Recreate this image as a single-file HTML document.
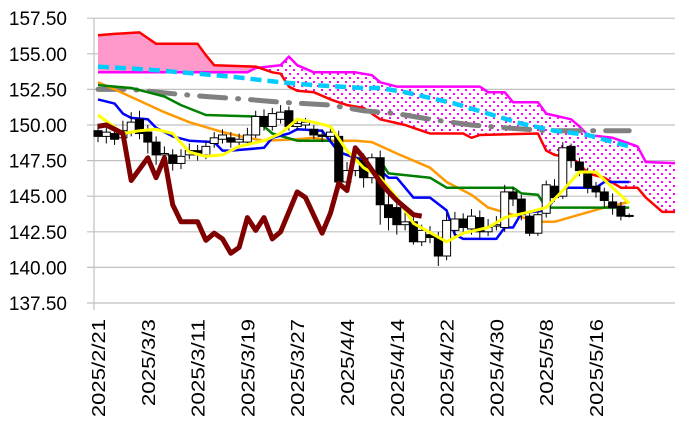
<!DOCTYPE html>
<html><head><meta charset="utf-8">
<style>
html,body{margin:0;padding:0;background:#fff;}
svg{display:block;font-family:"Liberation Sans","Noto Sans CJK JP",sans-serif;}
</style></head>
<body>
<svg id="chart" width="675" height="440" viewBox="0 0 675 440" xmlns="http://www.w3.org/2000/svg">
<defs>
<pattern id="dots" width="8" height="8" patternUnits="userSpaceOnUse">
<rect width="8" height="8" fill="#fff"/>
<rect x="1" y="1" width="2" height="2" fill="#ff00ff"/>
<rect x="5" y="5" width="2" height="2" fill="#ff00ff"/>
</pattern>
</defs>
<g id="grid"></g>
<g id="cloud"></g>
<g id="lines"></g>
<g id="candles"></g>
<g id="chikouG"></g>
<g id="yaxis"></g>
<g id="xaxis"></g>
</svg>
<script>
const yTicks = [137.5,140,142.5,145,147.5,150,152.5,155,157.5];
const xLabels = ["2025/2/21","2025/3/3","2025/3/11","2025/3/19","2025/3/27","2025/4/4","2025/4/14","2025/4/22","2025/4/30","2025/5/8","2025/5/16"];
const opens  = [149.6,149.2,149.4,149.1,149.5,150.4,149.5,148.8,147.9,147.9,147.3,147.9,148.2,147.9,148.7,149.0,149.1,148.8,148.8,149.3,150.6,149.9,150.4,151.0,149.9,150.0,149.7,149.3,149.2,149.2,146.0,146.8,147.5,146.3,147.7,144.4,144.2,143.0,143.2,141.8,142.3,142.1,140.8,142.6,143.4,142.7,143.5,142.5,142.9,142.8,145.3,144.8,143.6,142.4,143.8,145.7,145.0,148.5,147.4,146.7,145.7,145.3,144.6,144.3,143.6];
const closes = [149.2,149.5,149.0,149.6,150.2,149.4,148.8,147.9,148.0,147.3,147.8,148.2,147.9,148.5,149.1,149.3,148.8,149.0,149.3,150.6,149.9,150.8,150.9,149.9,150.1,150.2,149.3,149.2,149.5,146.0,146.8,147.6,146.3,147.7,144.4,143.5,143.0,143.2,141.8,142.6,142.1,140.8,143.3,143.4,142.8,143.6,142.5,142.8,143.0,145.3,144.8,143.7,142.4,143.7,145.8,144.9,148.4,147.5,146.8,145.6,145.3,144.7,144.2,143.6,143.65];
const highs  = [150.1,150.0,149.9,150.3,150.9,151.0,150.0,149.2,148.5,148.3,148.3,148.7,148.6,148.9,149.5,149.7,149.5,149.4,149.8,151.0,151.1,151.2,151.4,151.3,150.5,150.5,150.0,149.7,149.9,149.6,147.4,147.9,148.0,148.0,148.2,145.2,144.8,144.0,143.8,143.0,142.9,142.5,143.8,143.9,143.8,144.1,144.0,143.4,143.6,145.8,145.6,145.1,144.0,144.1,146.1,146.2,148.8,148.7,147.7,147.0,146.0,145.6,145.2,144.6,143.8];
const lows   = [148.8,148.7,148.6,148.7,149.2,149.0,148.0,147.2,147.5,146.8,146.9,147.6,147.5,147.6,148.4,148.7,148.4,148.5,148.6,149.1,149.6,149.6,150.1,149.6,149.6,149.7,149.0,148.8,148.9,145.5,145.6,146.4,145.6,145.9,143.0,142.6,142.3,142.6,141.6,141.5,141.7,140.1,140.5,142.2,142.3,142.3,142.0,142.2,142.6,142.5,144.3,143.3,142.2,142.2,143.5,144.6,144.8,147.0,146.4,145.2,144.9,144.2,143.7,143.3,143.5];
const tenkan = [[0,150.7],[3,149.4],[5,149.6],[7,149.7],[9,149.4],[11,148.1],[13,147.8],[15,147.9],[17,148.5],[20,148.9],[22,149.4],[24,150.4],[26,150.2],[28,149.9],[30,148.2],[32,147.0],[34,146.3],[36,144.9],[38,143.1],[42,141.8],[44,142.4],[47,142.8],[49,143.5],[52,143.9],[54,144.2],[56,145.4],[58,146.7],[60,146.7],[64,144.5]];
const kijun = [[0,151.8],[2,151.5],[3,150.8],[4,150.5],[6,150.4],[7,149.8],[9,149.2],[11,148.9],[14,148.8],[15,148.2],[16,148.2],[20,148.4],[21,149.1],[23,149.4],[24,149.7],[27,149.6],[29,148.1],[30,147.9],[32,147.5],[34,146.8],[35,146.3],[36,146.3],[38,144.9],[40,144.9],[42,144.0],[43,142.3],[44,142.0],[48,142.0],[49,142.8],[50,142.8],[51,143.8],[54,144.0],[56,145.6],[60,145.6],[61,146.0],[64,146.0]];
const greenLine = [[0,152.8],[4,152.6],[6,152.3],[8,152.0],[10,151.4],[13,150.7],[19,150.6],[20,149.9],[21,149.4],[24,148.9],[28,148.9],[29,148.1],[31,147.7],[34,147.5],[35,146.6],[40,146.3],[42,145.6],[50,145.6],[51,145.2],[53,145.1],[54,144.2],[64,144.2]];
const orangeLine = [[0,153.0],[2,152.5],[5,151.7],[8,150.9],[11,150.2],[15,149.5],[18,149.1],[20,148.9],[24,149.0],[26,149.1],[28,148.9],[31,148.9],[33,148.8],[36,148.0],[40,147.0],[42,146.0],[45,145.1],[47,144.2],[50,143.7],[53,143.2],[55,143.2],[58,143.7],[61,144.2],[64,144.6]];
const chikou = [[0,149.9],[1,150.0],[3,149.4],[4,146.1],[6,147.7],[7,146.3],[8,147.7],[9,144.4],[10,143.2],[12,143.2],[13,141.9],[14,142.4],[15,142.0],[16,141.0],[17,141.4],[18,143.5],[19,142.6],[20,143.5],[21,142.0],[22,142.5],[24,145.3],[25,144.9],[27,142.4],[28,143.8],[29,145.9],[30,145.4],[31,148.4],[32,147.7],[34,146.0],[35,145.3],[36,144.7],[38,143.7],[39,143.6]];
const cyanLine = [[0,154.1],[6,153.9],[10,153.7],[16,153.4],[22,153.0],[26,152.8],[32,152.6],[34,152.6],[37,152.3],[43,151.5],[47,150.8],[51,150.1],[55,149.6],[59,149.3],[64,148.5]];
const greyLine = [[0,152.5],[4,152.5],[9,152.2],[13,152.0],[18,151.8],[22,151.6],[28,151.4],[32,151.0],[34,150.9],[36,150.8],[40,150.4],[45,150.0],[49,149.8],[54,149.6],[64,149.6]];
const spanA = [[0,156.3],[2,156.4],[5,156.5],[6,156.1],[7,155.7],[12,155.7],[13,154.9],[14,154.2],[19,154.1],[21,153.7],[22,153.6],[23,152.7],[24,152.4],[26,152.3],[28,151.8],[30,151.4],[32,151.2],[33,150.8],[34,150.4],[37,150.0],[39,149.6],[40,149.4],[44,149.4],[45,149.1],[46,149.3],[53,149.4],[54,148.2],[55,147.9],[57,147.7],[58,147.3],[59,146.6],[61,146.3],[63,145.6],[65,145.6],[66,144.9],[68,143.9],[70,143.9]];
const spanB = [[0,153.7],[18,153.7],[19,154.0],[22,154.2],[23,154.8],[24,154.2],[26,153.7],[31,153.7],[33,153.5],[34,153.0],[36,152.7],[46,152.7],[47,152.3],[49,152.3],[50,151.6],[53,151.6],[54,150.8],[57,150.4],[58,149.9],[59,149.3],[62,149.1],[65,148.5],[66,147.4],[70,147.3]];

const NS="http://www.w3.org/2000/svg";
const X0=98, DX=8.3, PL=94, PR=675;
const xs = i => X0 + i*DX;
const ys = p => 303 - (p-137.5)*14.24;
function mk(tag, parent, attrs){const e=document.createElementNS(NS,tag);for(const k in attrs)e.setAttribute(k,attrs[k]);parent.appendChild(e);return e;}
const grid=document.getElementById('grid');
yTicks.forEach(t=>{
  const l=mk('line',grid,{x1:87,x2:PR,y1:ys(t),y2:ys(t),stroke:'#c0c0c0','stroke-width':1.2});
  
  
});
const ax=mk('line',grid,{x1:PL,x2:PL,y1:ys(157.5),y2:ys(137.5)+7,stroke:'#c0c0c0','stroke-width':1.2});


const yaxis=document.getElementById('yaxis');
yTicks.forEach(t=>{
  const tx=mk('text',yaxis,{x:67,y:ys(t)+7,'text-anchor':'end','font-size':19,fill:'#000'});
  tx.textContent=t.toFixed(2);
  
  
});
const xaxis=document.getElementById('xaxis');
xLabels.forEach((s,k)=>{
  const x=xs(k*6)+7;
  const tx=mk('text',xaxis,{x:0,y:0,'text-anchor':'end','font-size':18,fill:'#000',transform:`translate(${x},319) rotate(-90)`,textLength:s.length*10.9,lengthAdjust:'spacingAndGlyphs'});
  tx.textContent=s;
  
  
});
function pts(arr){return arr.map(d=>xs(d[0]).toFixed(1)+','+ys(d[1]).toFixed(1)).join(' ');}
// cloud
const cloud=document.getElementById('cloud');
const defs=document.querySelector('defs');
const aPts=pts(spanA), bPts=pts(spanB);
const xa0=xs(spanA[0][0]), xa1=xs(spanA[spanA.length-1][0]);
const xb0=xs(spanB[0][0]), xb1=xs(spanB[spanB.length-1][0]);
function clip(id, poly){const c=mk('clipPath',defs,{id:id});mk('polygon',c,{points:poly});}
clip('belowA', aPts+` ${xa1},400 ${xa0},400`);
clip('belowB', bPts+` ${xb1},400 ${xb0},400`);
const solid=mk('polygon',cloud,{points:bPts+` ${xb1},0 ${xb0},0`,fill:'#ff99cc','clip-path':'url(#belowA)'});


const dotted=mk('polygon',cloud,{points:aPts+` ${xa1},0 ${xa0},0`,fill:'url(#dots)','clip-path':'url(#belowB)'});


const lines=document.getElementById('lines');
function line(parent,arr,color,w,name,extra){
  const p=mk('polyline',parent,Object.assign({points:pts(arr),fill:'none',stroke:color,'stroke-width':w,'stroke-linejoin':'round'},extra||{}));
  
  
  return p;
}
line(lines,spanB,'#ff00ff',2.5,'senkou-span-b');
line(lines,spanA,'#ff0000',2.5,'senkou-span-a');
line(lines,greyLine,'#808080',5,'grey-dashdot-line',{'stroke-dasharray':'26 12 1 12','stroke-linecap':'round'});
line(lines,cyanLine,'#00ccff',4.5,'cyan-dashed-line',{'stroke-dasharray':'11 6'});
line(lines,orangeLine,'#ff9900',2.5,'orange-line');
line(lines,greenLine,'#008000',2.5,'green-line');
line(lines,kijun,'#0000ff',2.5,'kijun-sen');
// candles
const cg=document.getElementById('candles');
opens.forEach((o,i)=>{
  const c=closes[i], x=xs(i);
  const g=mk('g',cg,{});
  
  
  mk('line',g,{x1:x,x2:x,y1:ys(highs[i]),y2:ys(lows[i]),stroke:'#000','stroke-width':1});
  const top=ys(Math.max(o,c)), bot=ys(Math.min(o,c));
  mk('rect',g,{x:x-4,y:top,width:8,height:Math.max(bot-top,1),fill:c>=o?'#fff':'#000',stroke:'#000','stroke-width':1});
});
line(document.getElementById('chikouG'),tenkan,'#ffff00',3,'tenkan-sen');
line(document.getElementById('chikouG'),chikou,'#800000',5,'chikou-span');
</script>
</body></html>
